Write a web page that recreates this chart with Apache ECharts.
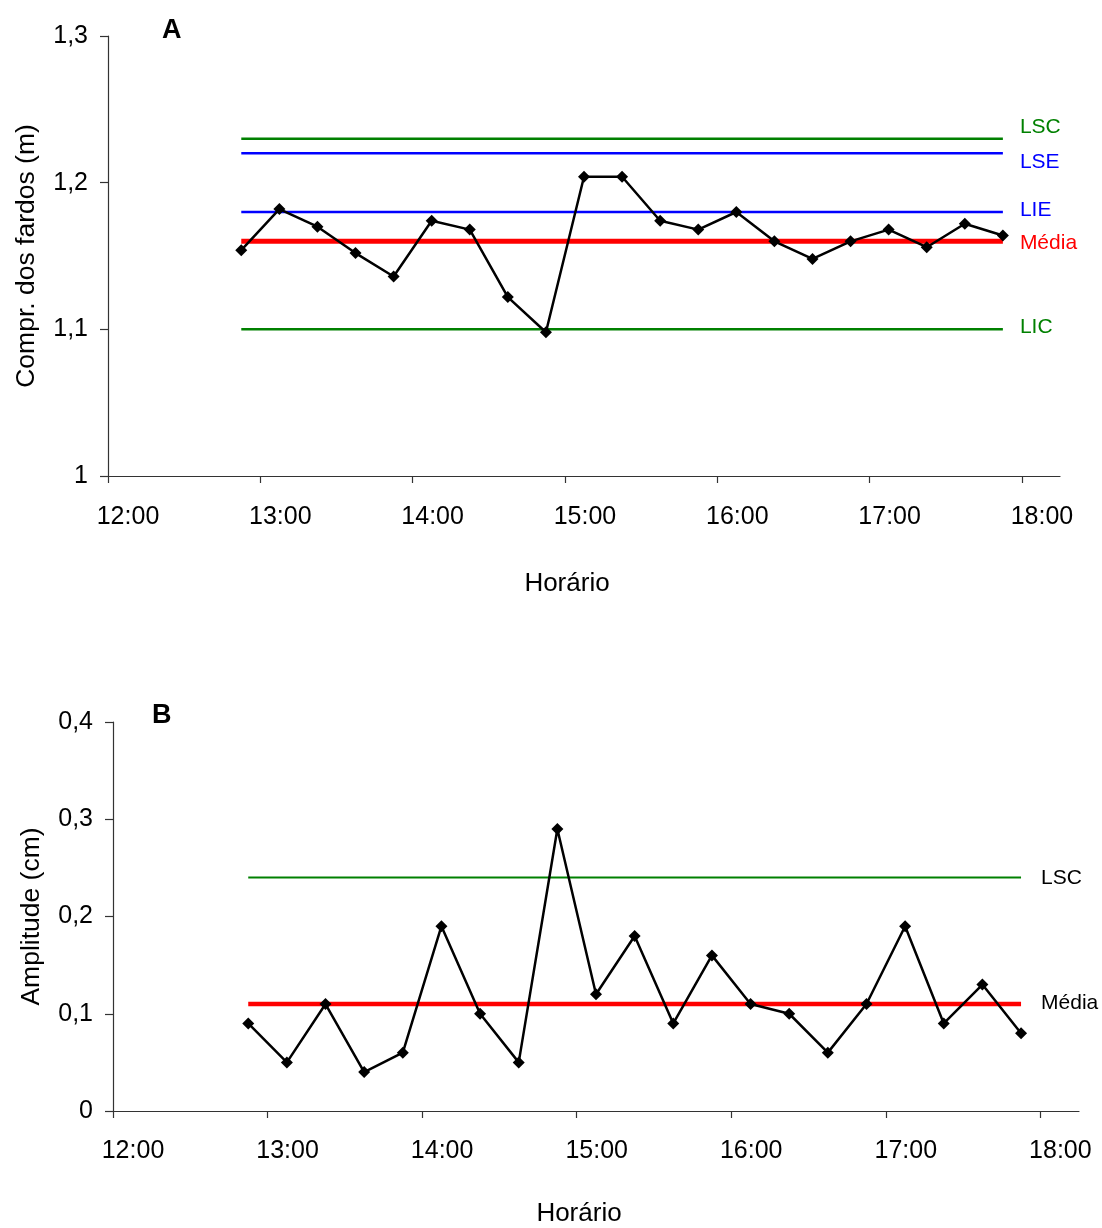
<!DOCTYPE html>
<html>
<head>
<meta charset="utf-8">
<script src="https://cdn.jsdelivr.net/npm/echarts@6/dist/echarts.min.js"></script>
<style>
  html, body { margin: 0; padding: 0; background: #fff; }
  #chart { width: 1102px; height: 1228px; }
</style>
</head>
<body>
<div id="chart"></div>
<script>
// Sampling times (15 min apart)
const times = ['12:52:30', '13:07:30', '13:22:30', '13:37:30', '13:52:30', '14:07:30', '14:22:30',
  '14:37:30', '14:52:30', '15:07:30', '15:22:30', '15:37:30', '15:52:30', '16:07:30',
  '16:22:30', '16:37:30', '16:52:30', '17:07:30', '17:22:30', '17:37:30', '17:52:30'];

// A: mean bale length (m) per sample
const comprimento = [1.154, 1.182, 1.170, 1.152, 1.136, 1.174, 1.168, 1.122, 1.098, 1.204, 1.204,
  1.174, 1.168, 1.180, 1.160, 1.148, 1.160, 1.168, 1.156, 1.172, 1.164];

// B: range per sample
const amplitude = [0.09, 0.05, 0.11, 0.04, 0.06, 0.19, 0.10, 0.05, 0.29, 0.12, 0.18,
  0.09, 0.16, 0.11, 0.10, 0.06, 0.11, 0.19, 0.09, 0.13, 0.08];

// Control / specification limits
const limitsA = { LSC: 1.23, LSE: 1.22, LIE: 1.18, 'Média': 1.16, LIC: 1.10 };
const limitsB = { LSC: 0.24, 'Média': 0.11 };

// Axis ticks (minutes since midnight)
const hourTicks = [720, 780, 840, 900, 960, 1020, 1080];

const FONT = "'Liberation Sans', Arial, sans-serif";
const GREEN = '#008000', BLUE = '#0000ff', RED = '#ff0000';

function toMin(t) {
  const p = t.split(':').map(Number);
  return p[0] * 60 + p[1] + (p[2] || 0) / 60;
}
const xs = times.map(toMin);
const x0 = xs[0], x1 = xs[xs.length - 1];

const fmtHour = v => (Math.floor(v / 60)) + ':00';
const fmtDec = v => String(Math.round(v * 10) / 10).replace('.', ',');

function xAxisCfg(gridIndex, margin, gap) {
  return {
    type: 'value', gridIndex, min: 720, max: 1095, interval: 60,
    name: 'Horário', nameLocation: 'middle', nameGap: gap,
    nameTextStyle: { fontFamily: FONT, fontSize: 26, color: '#000', padding: [0, 34, 0, 0] },
    axisLine: { lineStyle: { color: '#333', width: 1.2 } },
    axisTick: { customValues: hourTicks, length: 7, lineStyle: { color: '#333', width: 1.2 } },
    axisLabel: { customValues: hourTicks, formatter: fmtHour, margin, padding: [0, 0, 0, 40],
      fontFamily: FONT, fontSize: 25, color: '#000' },
    splitLine: { show: false }
  };
}
function yAxisCfg(gridIndex, min, max, name, gap) {
  return {
    type: 'value', gridIndex, min, max, interval: 0.1,
    name, nameLocation: 'middle', nameGap: gap,
    nameTextStyle: { fontFamily: FONT, fontSize: 26.5, color: '#000' },
    axisLine: { show: true, lineStyle: { color: '#333', width: 1.2 } },
    axisTick: { show: true, length: 8, lineStyle: { color: '#333', width: 1.2 } },
    axisLabel: { formatter: fmtDec, margin: 20, fontFamily: FONT, fontSize: 25, color: '#000' },
    splitLine: { show: false }
  };
}
function limitSeries(idx, label, value, color, width, labelColor, dy, dist) {
  return {
    type: 'line', xAxisIndex: idx, yAxisIndex: idx, name: label,
    data: [[x0, value], [x1, value]], showSymbol: false, symbol: 'none', silent: true,
    lineStyle: { color, width }, z: 2,
    endLabel: { show: true, formatter: label, color: labelColor, fontFamily: FONT, fontSize: 21,
      distance: dist, offset: [0, dy] }
  };
}
function dataSeries(idx, values) {
  return {
    type: 'line', xAxisIndex: idx, yAxisIndex: idx,
    data: xs.map((x, i) => [x, values[i]]),
    symbol: 'diamond', symbolSize: 12, showSymbol: true,
    itemStyle: { color: '#000' }, lineStyle: { color: '#000', width: 2.5 }, z: 5
  };
}

const chart = echarts.init(document.getElementById('chart'), null, { renderer: 'canvas' });
chart.setOption({
  animation: false,
  backgroundColor: '#fff',
  title: [
    { text: 'A', left: 157, top: 12, textStyle: { fontFamily: FONT, fontSize: 27, fontWeight: 'bold', color: '#000' } },
    { text: 'B', left: 147, top: 697, textStyle: { fontFamily: FONT, fontSize: 27, fontWeight: 'bold', color: '#000' } }
  ],
  grid: [
    { left: 108, top: 36, width: 952, height: 440 },
    { left: 113, top: 722, width: 966, height: 391 }
  ],
  xAxis: [xAxisCfg(0, 29, 95), xAxisCfg(1, 28, 90)],
  yAxis: [
    yAxisCfg(0, 1, 1.3, 'Compr. dos fardos (m)', 68),
    yAxisCfg(1, 0, 0.4, 'Amplitude (cm)', 68)
  ],
  series: [
    limitSeries(0, 'LSC', limitsA.LSC, GREEN, 2.5, GREEN, -11, 17),
    limitSeries(0, 'LSE', limitsA.LSE, BLUE, 2.5, BLUE, 9, 17),
    limitSeries(0, 'LIE', limitsA.LIE, BLUE, 2.5, BLUE, -2, 17),
    limitSeries(0, 'Média', limitsA['Média'], RED, 5, RED, 2, 17),
    limitSeries(0, 'LIC', limitsA.LIC, GREEN, 2.5, GREEN, -2, 17),
    dataSeries(0, comprimento),
    limitSeries(1, 'LSC', limitsB.LSC, GREEN, 2, '#000', 1, 20),
    limitSeries(1, 'Média', limitsB['Média'], RED, 4.5, '#000', -1, 20),
    dataSeries(1, amplitude)
  ]
});
</script>
</body>
</html>
